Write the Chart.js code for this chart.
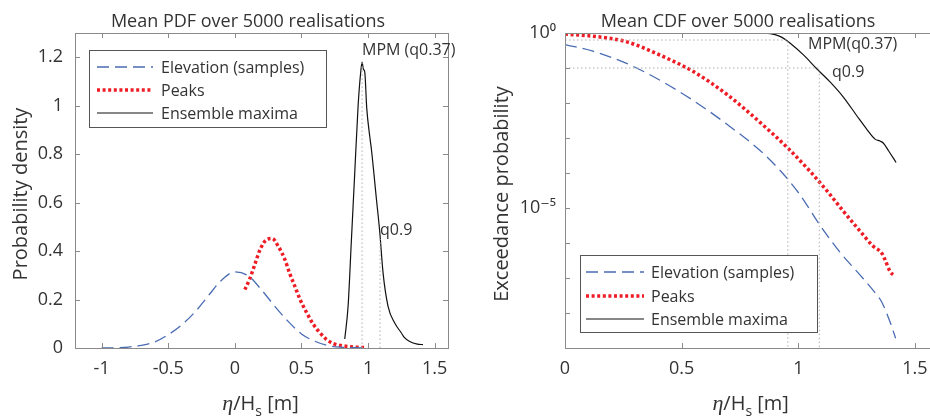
<!DOCTYPE html>
<html>
<head>
<meta charset="utf-8">
<script src="https://cdn.jsdelivr.net/npm/chart.js@4.4.1/dist/chart.umd.min.js"></script>
<style>
  html, body { margin: 0; padding: 0; background: #fff; overflow: hidden; width: 930px; height: 417px; }
  #pdfChart { position: absolute; left: 0; top: 0; }
  #cdfChart { position: absolute; left: 470px; top: 0; }
</style>
</head>
<body>
<canvas id="pdfChart" width="470" height="417"></canvas>
<canvas id="cdfChart" width="490" height="417"></canvas>
<script>
// ---- data (eta/Hs on x) ----
const seriesLabels = ['Elevation (samples)', 'Peaks', 'Ensemble maxima'];

// left panel: mean PDF
const elevX   = [-1.0, -0.9, -0.8, -0.7, -0.6, -0.5, -0.4, -0.3, -0.2, -0.1, 0.0, 0.1, 0.2, 0.3, 0.4, 0.5, 0.6, 0.7, 0.8, 0.9, 1.0];
const elevPdf = [0, 0.001, 0.004, 0.011, 0.025, 0.055, 0.095, 0.148, 0.215, 0.28, 0.314, 0.298, 0.24, 0.172, 0.11, 0.058, 0.028, 0.01, 0.003, 0.001, 0];

const peaksX   = [0.075, 0.11, 0.15, 0.19, 0.24, 0.28, 0.325, 0.375, 0.41, 0.45, 0.49, 0.54, 0.59, 0.64, 0.69, 0.74, 0.81, 0.89, 0.97];
const peaksPdf = [0.241, 0.283, 0.345, 0.407, 0.448, 0.452, 0.42, 0.366, 0.31, 0.255, 0.2, 0.145, 0.097, 0.062, 0.034, 0.018, 0.009, 0.004, 0.002];

const maxX   = [0.825, 0.85, 0.875, 0.9, 0.925, 0.945, 0.955, 0.965, 0.975, 0.99, 1.0125, 1.025, 1.063, 1.0875, 1.1125, 1.15, 1.2, 1.25, 1.27, 1.3125, 1.37, 1.4125];
const maxPdf = [0.037, 0.172, 0.447, 0.723, 0.998, 1.14, 1.18, 1.15, 1.14, 0.99, 0.874, 0.82, 0.613, 0.48, 0.31, 0.172, 0.103, 0.062, 0.045, 0.027, 0.016, 0.014];

// right panel: exceedance probability
const elevCdfX = [0, 0.12, 0.264, 0.407, 0.55, 0.693, 0.836, 0.929, 1.007, 1.093, 1.179, 1.264, 1.336, 1.357, 1.393, 1.417];
const elevExc  = [0.468, 0.302, 0.135, 0.0447, 0.01175, 2.5e-3, 4.4e-4, 1.05e-4, 2.4e-5, 3.2e-6, 5.4e-7, 1.23e-7, 3.3e-8, 2.1e-8, 5.6e-9, 1.9e-9];

const peaksCdfX = [0, 0.12, 0.264, 0.407, 0.55, 0.693, 0.836, 0.957, 1.05, 1.121, 1.193, 1.264, 1.321, 1.357, 1.371, 1.393, 1.414];
const peaksExc  = [0.93, 0.81, 0.56, 0.234, 0.079, 0.0178, 2.8e-3, 5.0e-4, 1.12e-4, 3.2e-5, 8.1e-6, 2.2e-6, 8.1e-7, 5.2e-7, 3.4e-7, 1.55e-7, 1.12e-7];

const maxCdfX = [0.8, 0.86, 0.9, 0.93, 0.964, 1.021, 1.079, 1.136, 1.193, 1.25, 1.293, 1.329, 1.35, 1.364, 1.386, 1.419];
const maxExc  = [1.0, 0.99, 0.9, 0.75, 0.52, 0.24, 0.095, 0.04, 0.0148, 4.4e-3, 1.8e-3, 9.3e-4, 8.2e-4, 7.2e-4, 4.4e-4, 2.0e-4];

// quantile markers
const mpmX = 0.955, q90X = 1.09;
const mpmPdf = 1.18, q90Pdf = 0.45;
const mpmExc = 0.63, q90Exc = 0.1;

const FONT = "'Open Sans', 'DejaVu Sans', sans-serif";
const TEXT = '#333333';
const AXIS = '#8a8a8a';
const BLUE = '#4a6cb3';
const RED = '#ee1c25';

const pts = (xs, ys) => xs.map((x, i) => ({ x: x, y: ys[i] }));

function curve(label, data, color, width, dash) {
  return {
    label: label, data: data, borderColor: color, borderWidth: width, borderDash: dash,
    pointRadius: 0, fill: false, cubicInterpolationMode: 'monotone', inLegend: true
  };
}
function guide(data) {
  return { label: '', data: data, borderColor: '#b0b0b0', borderWidth: 1, borderDash: [1.5, 2.5], pointRadius: 0, fill: false, tension: 0 };
}

function drawXTitle(ctx, cx, base) {
  const parts = [
    ['η', 'italic 22px "Liberation Serif", serif', 0],
    ['/H', '20px ' + FONT, 0],
    ['s', '14px ' + FONT, 6],
    [' [m]', '20px ' + FONT, 0]
  ];
  let w = 0;
  parts.forEach(p => { ctx.font = p[1]; w += ctx.measureText(p[0]).width; });
  let x = cx - w / 2;
  ctx.textAlign = 'left';
  ctx.textBaseline = 'alphabetic';
  parts.forEach(p => { ctx.font = p[1]; ctx.fillText(p[0], x, base + p[2]); x += ctx.measureText(p[0]).width; });
}

// box, inward ticks, legend and text labels (MATLAB look)
function decor(o) {
  return {
    id: 'decor',
    afterDatasetsDraw(chart) {
      const ctx = chart.ctx, a = chart.chartArea;
      const xs = chart.scales.x, ys = chart.scales.y;
      ctx.save();
      ctx.strokeStyle = AXIS;
      ctx.lineWidth = 1;
      ctx.setLineDash([]);
      ctx.strokeRect(Math.round(a.left) + 0.5, Math.round(a.top) + 0.5, Math.round(a.right - a.left), Math.round(a.bottom - a.top));
      ctx.beginPath();
      xs.ticks.forEach(t => {
        const px = Math.round(xs.getPixelForValue(t.value)) + 0.5;
        ctx.moveTo(px, a.bottom); ctx.lineTo(px, a.bottom - 5);
        ctx.moveTo(px, a.top); ctx.lineTo(px, a.top + 5);
      });
      ys.ticks.forEach(t => {
        const py = Math.round(ys.getPixelForValue(t.value)) + 0.5;
        ctx.moveTo(a.left, py); ctx.lineTo(a.left + 5, py);
        ctx.moveTo(a.right, py); ctx.lineTo(a.right - 5, py);
      });
      ctx.stroke();

      // legend
      const L = o.legend;
      ctx.fillStyle = '#fff';
      ctx.fillRect(L.x, L.y, L.w, L.h);
      ctx.strokeStyle = '#555';
      ctx.strokeRect(L.x + 0.5, L.y + 0.5, L.w, L.h);
      const sets = chart.data.datasets.filter(d => d.inLegend);
      sets.forEach((d, i) => {
        const y = L.y + L.rows[i];
        ctx.beginPath();
        ctx.setLineDash(d.borderDash || []);
        ctx.lineWidth = d.borderWidth;
        ctx.strokeStyle = d.borderColor;
        ctx.moveTo(L.x + L.line0, y); ctx.lineTo(L.x + L.line1, y);
        ctx.stroke();
        ctx.setLineDash([]);
        ctx.fillStyle = TEXT;
        ctx.font = '16px ' + FONT;
        ctx.textAlign = 'left';
        ctx.textBaseline = 'middle';
        ctx.fillText(d.label, L.x + L.text, y + 1);
      });

      // texts
      ctx.fillStyle = TEXT;
      ctx.textBaseline = 'alphabetic';
      ctx.font = '18px ' + FONT;
      ctx.textAlign = 'center';
      ctx.fillText(o.title, o.titleX, 27);
      ctx.textAlign = 'left';
      ctx.font = '16px ' + FONT;
      o.notes.forEach(n => ctx.fillText(n[0], n[1], n[2]));

      ctx.save();
      ctx.translate(o.yTitleX, 194);
      ctx.rotate(-Math.PI / 2);
      ctx.textAlign = 'center';
      ctx.textBaseline = 'middle';
      ctx.font = '20px ' + FONT;
      ctx.fillText(o.yTitle, 0, 0);
      ctx.restore();

      drawXTitle(ctx, (a.left + a.right) / 2 - 1, 410);
      ctx.restore();
    }
  };
}

const tickFont = { family: FONT, size: 18 };
const noGrid = { display: false, drawTicks: false };
const fmt = v => String(+(+v).toFixed(2));

new Chart(document.getElementById('pdfChart').getContext('2d'), {
  type: 'line',
  data: {
    datasets: [
      guide([{ x: mpmX, y: 0 }, { x: mpmX, y: mpmPdf }]),
      guide([{ x: q90X, y: 0 }, { x: q90X, y: q90Pdf }]),
      curve(seriesLabels[0], pts(elevX, elevPdf), BLUE, 1.3, [12, 6]),
      curve(seriesLabels[1], pts(peaksX, peaksPdf), RED, 3.5, [3, 2.6]),
      curve(seriesLabels[2], pts(maxX, maxPdf), '#111', 1.2, [])
    ]
  },
  options: {
    responsive: false,
    animation: false,
    layout: { padding: { top: 33, right: 22, left: 0, bottom: 0 } },
    plugins: { legend: { display: false }, tooltip: { enabled: false } },
    scales: {
      x: {
        type: 'linear', min: -1.2, max: 1.6,
        afterFit: s => { s.height = 69; },
        grid: noGrid, border: { display: false },
        ticks: { stepSize: 0.5, includeBounds: false, padding: 10, color: TEXT, font: tickFont, maxRotation: 0, autoSkip: false, callback: fmt }
      },
      y: {
        type: 'linear', min: 0, max: 1.3,
        afterFit: s => { s.width = 75; },
        grid: noGrid, border: { display: false },
        ticks: { stepSize: 0.2, includeBounds: false, padding: 12, color: TEXT, font: tickFont, autoSkip: false, callback: fmt }
      }
    }
  },
  plugins: [decor({
    title: 'Mean PDF over 5000 realisations', titleX: 248,
    yTitle: 'Probability density', yTitleX: 21,
    legend: { x: 89, y: 50, w: 237, h: 77, rows: [17, 40, 63], line0: 8, line1: 64, text: 72 },
    notes: [['MPM (q0.37)', 362, 55], ['q0.9', 380, 235]]
  })]
});

const decades = [-9, -8, -7, -6, -5, -4, -3, -2, -1, 0];
const supers = { '0': '⁰', '5': '⁵', '-': '⁻' };
const logLabel = v => {
  const e = Math.round(Math.log10(v));
  if (e !== 0 && e !== -5) return '';
  return '10' + String(e).split('').map(c => supers[c]).join('');
};

new Chart(document.getElementById('cdfChart').getContext('2d'), {
  type: 'line',
  data: {
    datasets: [
      guide([{ x: 0, y: mpmExc }, { x: mpmX, y: mpmExc }, { x: mpmX, y: 1e-9 }]),
      guide([{ x: 0, y: q90Exc }, { x: q90X, y: q90Exc }, { x: q90X, y: 1e-9 }]),
      curve(seriesLabels[0], pts(elevCdfX, elevExc), BLUE, 1.3, [12, 6]),
      curve(seriesLabels[1], pts(peaksCdfX, peaksExc), RED, 3.5, [3, 2.6]),
      curve(seriesLabels[2], pts(maxCdfX, maxExc), '#111', 1.2, [])
    ]
  },
  options: {
    responsive: false,
    animation: false,
    layout: { padding: { top: 33, right: 21.7, left: 0, bottom: 0 } },
    plugins: { legend: { display: false }, tooltip: { enabled: false } },
    scales: {
      x: {
        type: 'linear', min: 0, max: 1.6,
        afterFit: s => { s.height = 69; },
        grid: noGrid, border: { display: false },
        ticks: { stepSize: 0.5, includeBounds: false, padding: 10, color: TEXT, font: tickFont, maxRotation: 0, autoSkip: false, callback: fmt }
      },
      y: {
        type: 'logarithmic', min: 1e-9, max: 1,
        afterFit: s => { s.width = 95; },
        afterBuildTicks: s => { s.ticks = decades.map(e => ({ value: Math.pow(10, e) })); },
        grid: noGrid, border: { display: false },
        ticks: { padding: 9, color: TEXT, font: tickFont, autoSkip: false, callback: logLabel }
      }
    }
  },
  plugins: [decor({
    title: 'Mean CDF over 5000 realisations', titleX: 268,
    yTitle: 'Exceedance probability', yTitleX: 32,
    legend: { x: 110, y: 255, w: 237, h: 77, rows: [17, 41, 64], line0: 6, line1: 64, text: 71 },
    notes: [['MPM(q0.37)', 338, 49], ['q0.9', 362, 77]]
  })]
});
</script>
</body>
</html>
